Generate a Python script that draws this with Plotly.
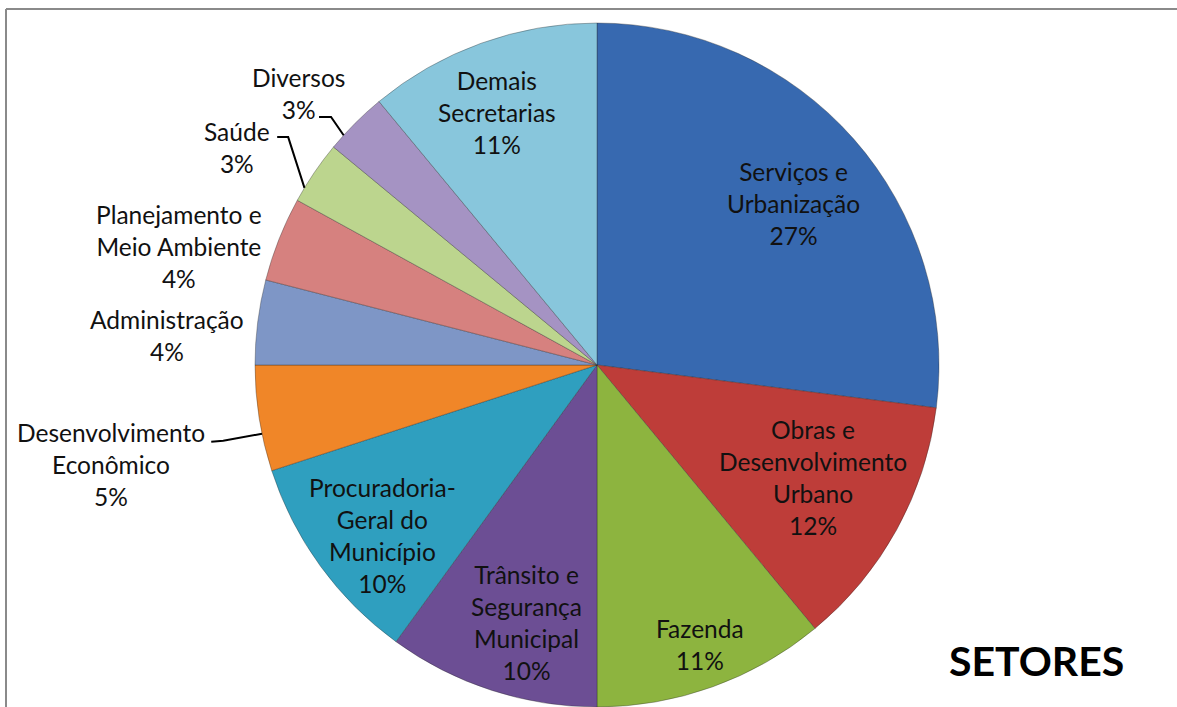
import math
import plotly.graph_objects as go

# ---- data ----
categories = [
    "Serviços e Urbanização",
    "Obras e Desenvolvimento Urbano",
    "Fazenda",
    "Trânsito e Segurança Municipal",
    "Procuradoria-Geral do Município",
    "Desenvolvimento Econômico",
    "Administração",
    "Planejamento e Meio Ambiente",
    "Saúde",
    "Diversos",
    "Demais Secretarias",
]
values = [27, 12, 11, 10, 10, 5, 4, 4, 3, 3, 11]
label_lines = [
    ["Serviços e", "Urbanização"],
    ["Obras e", "Desenvolvimento", "Urbano"],
    ["Fazenda"],
    ["Trânsito e", "Segurança", "Municipal"],
    ["Procuradoria-", "Geral do", "Município"],
    ["Desenvolvimento", "Econômico"],
    ["Administração"],
    ["Planejamento e", "Meio Ambiente"],
    ["Saúde"],
    ["Diversos"],
    ["Demais", "Secretarias"],
]
colors = ["#3769B0", "#BE3D39", "#8DB43F", "#6C4E94", "#2F9FBF", "#F08628",
          "#7E96C6", "#D6817F", "#BCD58E", "#A593C3", "#88C6DC"]
title_text = "SETORES"

# ---- layout helpers (positions / styling only) ----
W, H = 1177, 707
CX, CY, R = 597, 365, 342
FONT = "Lato, 'Open Sans', sans-serif"
FS = 24.5
# radial factor and angular nudge (deg) for label placement per slice
label_r = [0.744, 0.713, 0.87, 0.78, 0.80, 1.45, 1.26, 1.27, 1.23, 1.18, 0.793]
label_da = [2.1, -1.2, -0.4, -2.6, -2.5, -2.6, -3.3, -5.8, -3.0, -2.8, -1.8]
# leaders: slice index -> (start offset, elbow offset) relative to label center (px)
leaders = {5: ((100, -23), (112, -24)), 8: ((40, -10), (51, -10)), 9: ((21, 23), (33, 23))}


def px2paper(x, y):
    return x / W, 1 - y / H


total = sum(values)
fig = go.Figure()
fig.add_trace(go.Pie(
    labels=categories, values=values, sort=False, direction="clockwise",
    rotation=0, textinfo="none", hoverinfo="label+percent",
    marker=dict(colors=colors, line=dict(color="rgba(40,40,40,0.35)", width=1)),
    domain=dict(x=[(CX - R) / W, (CX + R) / W], y=[1 - (CY + R) / H, 1 - (CY - R) / H]),
    showlegend=False,
))

annotations = []
shapes = []
cum = 0
for i, v in enumerate(values):
    mid = (cum + v / 2) / total * 360.0
    cum += v
    ang = math.radians(mid + label_da[i])
    lx = CX + label_r[i] * R * math.sin(ang)
    ly = CY - label_r[i] * R * math.cos(ang)
    pct = f"{round(v / total * 100)}%"
    text = "<br>".join(label_lines[i] + [pct])
    x, y = px2paper(lx, ly)
    annotations.append(dict(x=x, y=y, xref="paper", yref="paper", text=text,
                            showarrow=False, xanchor="center", yanchor="middle",
                            align="center", font=dict(family=FONT, size=FS, color="#111111")))
    if i in leaders:
        (sx, sy), (ex, ey) = leaders[i]
        rx = CX + R * math.sin(ang)
        ry = CY - R * math.cos(ang)
        p0 = px2paper(lx + sx, ly + sy)
        p1 = px2paper(lx + ex, ly + ey)
        p2 = px2paper(rx, ry)
        path = f"M {p0[0]},{p0[1]} L {p1[0]},{p1[1]} L {p2[0]},{p2[1]}"
        shapes.append(dict(type="path", xref="paper", yref="paper", path=path,
                           line=dict(color="black", width=2)))

# frame lines (top and left)
shapes.append(dict(type="line", xref="paper", yref="paper",
                   x0=6 / W, x1=1, y0=1 - 9 / H, y1=1 - 9 / H, line=dict(color="#8a8a8a", width=2)))
shapes.append(dict(type="line", xref="paper", yref="paper",
                   x0=6 / W, x1=6 / W, y0=1 - 9 / H, y1=0, line=dict(color="#8a8a8a", width=2)))

tx, ty = px2paper(1036, 660)
annotations.append(dict(x=tx, y=ty, xref="paper", yref="paper", text=f"<b>{title_text}</b>",
                        showarrow=False, xanchor="center", yanchor="middle",
                        font=dict(family=FONT, size=41, color="black")))

fig.update_layout(
    width=W, height=H, margin=dict(l=0, r=0, t=0, b=0),
    paper_bgcolor="white", plot_bgcolor="white",
    annotations=annotations, shapes=shapes,
)
fig.write_html("out.html", config={"displayModeBar": False},
               post_script="document.body.style.margin='0';document.body.style.overflow='hidden';")
